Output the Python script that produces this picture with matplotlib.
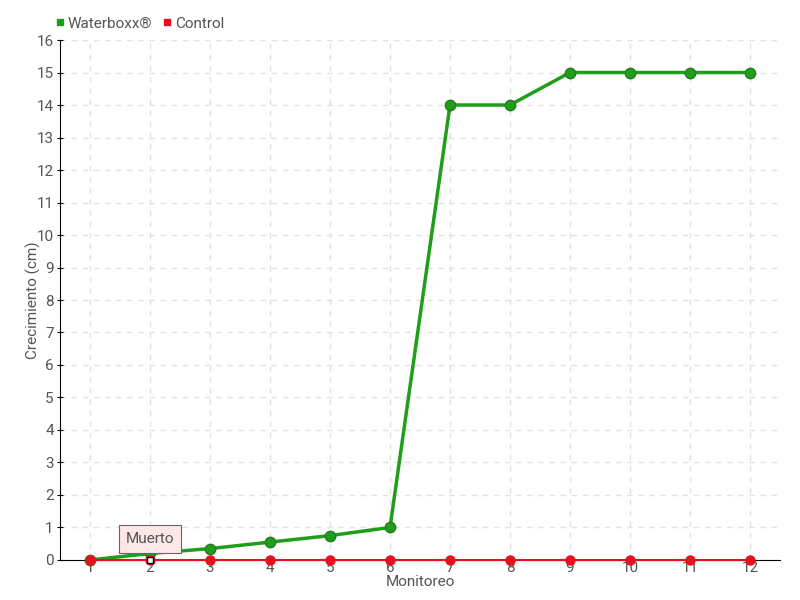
import matplotlib
matplotlib.use("Agg")
import matplotlib.pyplot as plt

plt.rcParams['font.family'] = ['Roboto', 'DejaVu Sans']

monitoreo = [1, 2, 3, 4, 5, 6, 7, 8, 9, 10, 11, 12]
waterboxx = [0, 0.2, 0.35, 0.55, 0.75, 1.0, 14, 14, 15, 15, 15, 15]
control = [0, 0, 0, 0, 0, 0, 0, 0, 0, 0, 0, 0]
yticks = list(range(0, 17))

green = '#1f9e1a'
red = '#e8101e'
txt = '#555555'

fig = plt.figure(figsize=(8, 6), dpi=100)
ax = fig.add_axes([0.075, 0.0667, 0.9, 0.8666])

ax.plot(monitoreo, waterboxx, color=green, lw=2.5, marker='o', ms=7.5,
        markerfacecolor=green, markeredgecolor='#2a7a22', zorder=3, clip_on=False)
ax.plot(monitoreo, control, color=red, lw=1.5, marker='o', ms=6.5,
        markerfacecolor=red, markeredgecolor=red, zorder=4, clip_on=False)
# hovered point
ax.plot(monitoreo[1], control[1], marker='s', ms=5, markerfacecolor='white',
        markeredgecolor='black', zorder=5, clip_on=False)

ax.annotate('Muerto', xy=(monitoreo[1], control[1] + 0.25), xytext=(monitoreo[1], 0.65),
            ha='center', va='center', fontsize=11, color=txt,
            bbox=dict(boxstyle='square,pad=0.45', fc='#fde8e8', ec='#666666', lw=0.8),
            zorder=6)

ax.set_xlim(0.5, 12.5)
ax.set_ylim(0, 16)
ax.set_xticks(monitoreo)
ax.set_yticks(yticks)
ax.tick_params(axis='x', length=0, labelsize=11, labelcolor=txt, pad=1)
ax.tick_params(axis='y', length=5, direction='inout', labelsize=11, labelcolor=txt, pad=2)
ax.grid(True, color='#e2e2e2', ls=(0, (4, 4)), lw=1)
ax.set_axisbelow(True)
for s in ['top', 'right']:
    ax.spines[s].set_visible(False)
ax.spines['left'].set_color('black')
ax.spines['bottom'].set_color('black')

ax.set_xlabel('Monitoreo', fontsize=11, color=txt, labelpad=0)
ax.set_ylabel('Crecimiento (cm)', fontsize=11, color=txt)
ax.yaxis.set_label_coords(-0.027, 0.5)

h1 = plt.Line2D([], [], marker='s', ls='', color=green, ms=5)
h2 = plt.Line2D([], [], marker='s', ls='', color=red, ms=5)
leg = fig.legend([h1, h2], ['Waterboxx®', 'Control'], loc='upper left',
                 bbox_to_anchor=(0.05, 0.995), ncol=2, frameon=False,
                 fontsize=11, handletextpad=0.1, columnspacing=0.6, handlelength=0.8)
for t in leg.get_texts():
    t.set_color(txt)

fig.savefig('out.png', dpi=100)
